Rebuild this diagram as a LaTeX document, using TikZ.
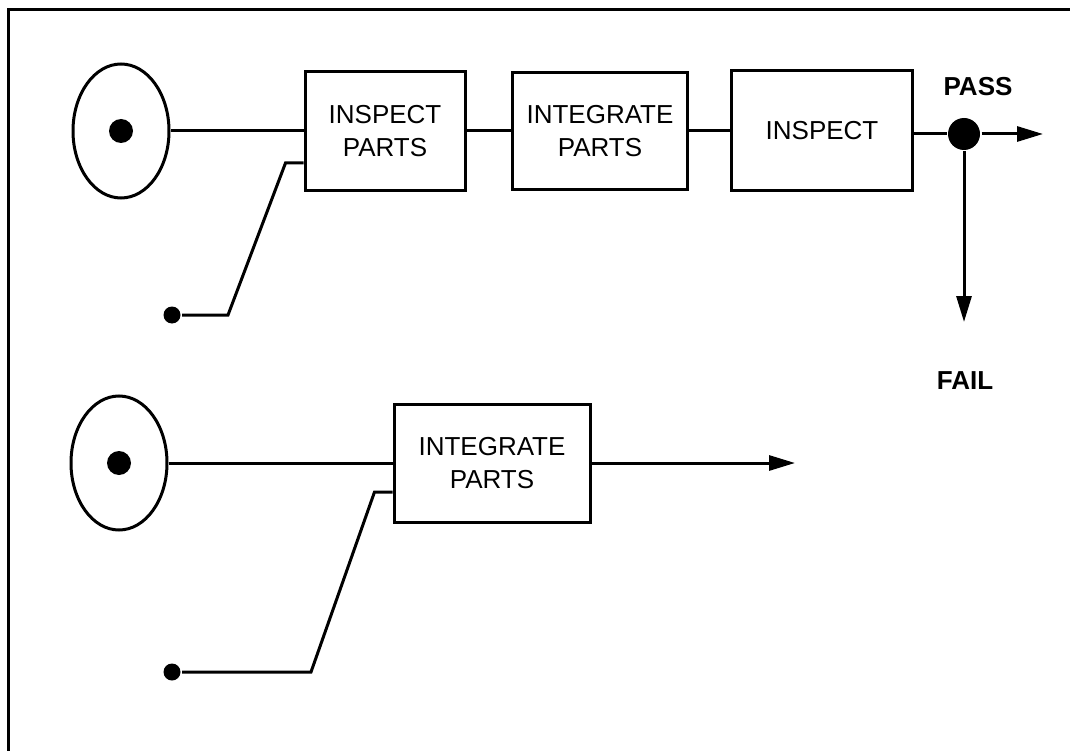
\documentclass[tikz,border=0pt]{standalone}
\usepackage{fontspec}
\setmainfont{Liberation Sans}
\usepackage{tikz}
\usetikzlibrary{shapes.geometric, arrows.meta, positioning, calc}

\begin{document}
\begin{tikzpicture}[
    x=1pt, y=-1pt, line width=3pt,
    source/.style={ellipse, draw, minimum width=96pt, minimum height=134pt, inner sep=0pt},
    dot/.style={circle, fill, inner sep=0pt, minimum size=#1},
    process/.style={rectangle, draw, align=center, font=\fontsize{26}{33}\selectfont, inner sep=0pt},
    label/.style={font=\fontsize{26}{30}\selectfont\bfseries},
    arrow/.style={-{Triangle[length=26pt, width=15pt]}}
]
\useasboundingbox (0,0) rectangle (1070,751);

% Frame (top and left only)
\draw (8,751) -- (8,10) -- (1070,10);

% Upper line
\node[source] (src1) at (121,131) {};
\node[dot=24pt] (core1) at (src1.center) {};
\node[process, minimum width=160pt, minimum height=119pt] (insp1) at (385,131) {INSPECT\\PARTS};
\node[process, minimum width=175pt, minimum height=117pt] (integ1) at (600,131) {INTEGRATE\\PARTS};
\node[process, minimum width=181pt, minimum height=120pt] (insp2) at (822,131) {INSPECT};
\node[dot=32pt] (split) at (964,134) {};
\node[dot=17pt] (in1) at (172,315) {};
\coordinate (pass) at (1043,134);
\coordinate (fail) at (964,322);
\node[label] (passlbl) at (978,87) {PASS};
\node[label] (faillbl) at (965,381) {FAIL};

\draw (src1) -- (insp1);
\draw (insp1) -- (integ1);
\draw (integ1) -- (insp2);
\draw (insp2.east |- split) -- (split);
\draw[arrow] (split) -- (pass);
\draw[arrow] (split) -- (fail);
\draw (in1) -- ++(56,0) -- ($(insp1.west)+(-18,32)$) -- ($(insp1.west)+(0,32)$);

% Lower line
\node[source] (src2) at (119,463) {};
\node[dot=24pt] (core2) at (src2.center) {};
\node[process, minimum width=196pt, minimum height=118pt] (integ2) at (492,463) {INTEGRATE\\PARTS};
\node[dot=17pt] (in2) at (172,672) {};
\coordinate (out2) at (795,463);

\draw (src2) -- (integ2);
\draw[arrow] (integ2) -- (out2);
\draw (in2) -- ++(139,0) -- ($(integ2.west)+(-18,29)$) -- ($(integ2.west)+(0,29)$);

\end{tikzpicture}
\end{document}
